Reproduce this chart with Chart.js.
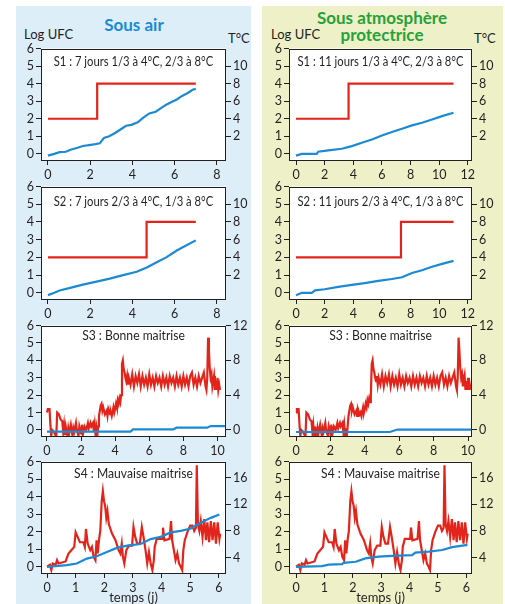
<!DOCTYPE html>
<html>
<head>
<meta charset="utf-8">
<script src="https://cdn.jsdelivr.net/npm/chart.js@4.4.0/dist/chart.umd.min.js"></script>
<style>
  body { margin: 0; width: 505px; height: 604px; position: relative; background: #fff; overflow: hidden;
         font-family: Lato, "Liberation Sans", sans-serif; color: #231f20; }
  .bg { position: absolute; top: 6px; height: 598px; }
  .txt { position: absolute; white-space: nowrap; font-size: 13px; line-height: 14px; }
  .title { position: absolute; font-weight: bold; font-size: 17px; line-height: 17px; text-align: center; }
  canvas { position: absolute; }
</style>
</head>
<body>
<div class="bg" style="left:16px;width:235px;background:#deeef9"></div>
<div class="bg" style="left:262px;width:241px;background:#eef0c8"></div>
<div class="title" style="left:34px;width:200px;top:16px;color:#1a8bd3">Sous air</div>
<div class="title" style="left:282px;width:200px;top:9px;color:#27a13a">Sous atmosphère<br>protectrice</div>
<div class="txt" style="left:24px;top:27px">Log UFC</div>
<div class="txt" style="left:228px;top:31px">T°C</div>
<div class="txt" style="left:271px;top:27px">Log UFC</div>
<div class="txt" style="left:474px;top:31px">T°C</div>

<script>
// Log UFC (blue) and temperature in °C (red), as [jours, valeur]
const s1AirLog = [[0,-0.1],[0.3,0.0],[0.55,0.1],[0.85,0.12],[1.1,0.25],[1.4,0.35],[1.65,0.45],[1.95,0.5],[2.25,0.55],[2.45,0.6],[2.65,0.9],[2.9,1.0],[3.2,1.2],[3.45,1.4],[3.7,1.6],[3.95,1.65],[4.25,1.8],[4.5,2.05],[4.8,2.3],[5.1,2.4],[5.35,2.6],[5.6,2.8],[5.85,2.95],[6.1,3.1],[6.35,3.3],[6.6,3.45],[6.85,3.65],[7.0,3.7]];
const s1AirTemp = [[0,4],[2.33,4],[2.33,8],[7,8]];
const s2AirLog = [[0,-0.13],[0.3,0.0],[0.55,0.13],[1.1,0.29],[1.65,0.46],[2.3,0.63],[2.93,0.8],[3.56,1.0],[4.2,1.19],[4.68,1.43],[5.15,1.72],[5.6,2.0],[6.1,2.39],[6.56,2.68],[7.0,2.96]];
const s2AirTemp = [[0,4],[4.67,4],[4.67,8],[7,8]];

const s1MapLog = [[0,-0.1],[0.4,0.0],[1.45,0.0],[1.55,0.12],[2.25,0.2],[3.2,0.29],[3.9,0.44],[4.6,0.63],[5.3,0.82],[6.0,1.05],[6.7,1.24],[7.4,1.43],[8.1,1.62],[8.8,1.77],[9.5,1.96],[10.2,2.15],[11.0,2.34]];
const s1MapTemp = [[0,4],[3.67,4],[3.67,8],[11,8]];
const s2MapLog = [[0,-0.14],[0.4,0.0],[1.1,0.0],[1.33,0.14],[2.0,0.2],[2.95,0.33],[3.9,0.45],[4.8,0.55],[5.75,0.67],[6.7,0.78],[7.4,0.88],[8.1,1.12],[8.8,1.27],[9.5,1.47],[10.2,1.63],[11.0,1.8]];
const s2MapTemp = [[0,4],[7.33,4],[7.33,8],[11,8]];

const s3AirLog = [[0,-0.1],[4.9,-0.1],[5.05,0.03],[7.4,0.03],[7.6,0.13],[9.4,0.13],[9.6,0.22],[10.45,0.22]];
const s3MapLog = [[0,-0.12],[5.45,-0.12],[5.9,0.02],[10.25,0.02]];
const s3Temp = [[0.0,2.0],[0.05,2.4],[0.15,2.4],[0.2,0.6],[0.25,-0.7],[0.3,0.0],[0.4,-0.2],[0.5,-0.6],[0.55,-0.6],[0.6,2.0],[0.7,1.8],[0.8,1.2],[0.9,1.0],[0.95,-0.2],[1.0,0.6],[1.05,-0.6],[1.1,0.4],[1.2,-0.7],[1.25,0.2],[1.3,-0.4],[1.4,0.6],[1.5,-0.7],[1.55,0.2],[1.6,-0.2],[1.7,0.8],[1.75,0.0],[1.85,-0.7],[1.9,0.4],[2.0,-0.4],[2.05,0.6],[2.1,-0.6],[2.2,0.4],[2.3,0.0],[2.4,0.8],[2.45,0.2],[2.55,0.8],[2.6,0.4],[2.7,0.8],[2.75,-0.2],[2.8,0.6],[2.85,-0.6],[2.9,0.2],[2.95,-0.7],[3.0,0.4],[3.05,1.6],[3.15,2.8],[3.2,3.0],[3.25,2.2],[3.3,2.6],[3.4,1.8],[3.5,2.2],[3.55,1.6],[3.6,2.4],[3.7,1.8],[3.75,2.0],[3.8,1.6],[3.9,2.6],[3.95,2.0],[4.0,2.4],[4.05,3.0],[4.1,2.6],[4.15,3.4],[4.2,3.0],[4.25,3.6],[4.3,3.2],[4.35,4.0],[4.4,7.6],[4.45,8.0],[4.5,7.0],[4.55,6.6],[4.6,6.0],[4.65,5.6],[4.7,6.2],[4.75,5.2],
  [4.8,6.0],[4.9,5.2],[5.0,6.4],[5.1,5.0],[5.2,6.2],[5.3,5.4],[5.4,6.4],[5.5,5.0],[5.6,6.2],[5.7,5.2],[5.8,6.0],[5.9,5.0],[6.0,6.4],[6.1,5.2],[6.2,6.0],[6.3,5.0],[6.4,6.2],[6.5,5.4],[6.6,6.0],[6.7,5.0],[6.8,6.2],[6.9,5.2],[7.0,6.0],[7.1,5.0],[7.2,6.2],[7.3,5.4],[7.4,6.0],[7.5,5.0],[7.6,6.2],[7.7,5.2],[7.8,6.0],[7.9,5.0],[8.0,6.2],[8.1,5.2],[8.2,6.0],[8.3,5.0],[8.4,6.2],[8.5,6.6],[8.6,5.2],[8.7,6.0],[8.8,5.0],[8.9,6.2],[9.0,5.4],[9.1,6.0],[9.2,6.6],[9.3,5.0],
  [9.35,4.6],[9.4,6.0],[9.45,10.6],[9.5,9.0],[9.55,7.0],[9.6,6.0],[9.65,6.4],[9.7,5.0],[9.8,6.2],[9.85,4.6],[9.9,5.6],[9.95,4.6],[10.0,6.0],[10.05,4.6],[10.1,5.2],[10.15,4.6]];

const s4AirLog = [[0,0.0],[0.69,0.1],[1.04,0.19],[1.39,0.47],[1.74,0.6],[2.09,0.84],[2.44,1.08],[2.8,1.21],[3.27,1.3],[3.62,1.58],[3.97,1.71],[4.32,1.96],[4.67,2.05],[5.02,2.18],[5.37,2.51],[5.72,2.79],[6.02,2.98]];
const s4MapLog = [[0,0.0],[0.91,0.04],[1.15,0.13],[1.62,0.15],[1.67,0.23],[2.1,0.29],[2.44,0.48],[2.91,0.58],[3.38,0.62],[4.09,0.67],[4.2,0.81],[4.68,0.87],[5.15,0.96],[5.5,1.12],[5.86,1.21],[6.04,1.25]];
const s4Temp = [[0.0,2.6],[0.1,2.9],[0.15,2.1],[0.2,3.1],[0.3,2.9],[0.35,3.6],[0.4,3.1],[0.65,3.4],[0.75,4.6],[0.85,5.1],[0.95,5.6],[1.0,7.8],[1.08,7.0],[1.15,6.3],[1.27,6.3],[1.32,5.6],[1.36,8.3],[1.42,6.1],[1.51,5.1],[1.57,5.6],[1.63,4.1],[1.69,3.6],[1.73,6.6],[1.77,4.6],[1.82,6.8],[1.86,8.0],[1.91,12.5],[1.95,14.0],[1.99,12.5],[2.03,11.8],[2.07,10.0],[2.11,11.0],[2.16,9.0],[2.27,7.6],[2.39,6.6],[2.5,5.1],[2.56,4.6],[2.61,6.1],[2.65,4.1],[2.7,3.1],[2.77,5.1],[2.86,5.8],[2.97,5.8],[3.02,8.6],[3.08,7.1],[3.15,6.1],[3.24,6.1],[3.31,8.6],[3.37,7.1],[3.44,5.1],[3.5,3.1],[3.56,4.8],[3.62,3.1],[3.68,2.1],[3.73,3.6],[3.76,5.6],[3.83,6.8],[4.02,6.8],[4.05,8.5],[4.1,6.6],[4.28,6.8],[4.33,9.5],[4.37,6.6],[4.43,5.1],[4.49,3.6],[4.55,4.6],[4.61,3.1],[4.67,2.6],[4.72,2.1],[4.76,5.1],[4.81,6.6],[4.9,7.8],[5.0,8.8],[5.08,8.8],[5.14,8.0],[5.2,8.5],[5.23,17.9],[5.27,9.0],[5.32,8.0],[5.37,9.5],[5.43,7.1],[5.49,9.8],[5.55,6.6],[5.6,9.3],[5.66,6.3],[5.72,9.5],[5.78,6.6],[5.84,9.3],[5.9,6.1],[5.96,9.3],[6.02,6.8],[6.05,7.6]];

const logTicks = [0, 1, 2, 3, 4, 5, 6];
const tTicksS12 = [2, 4, 6, 8, 10];
const tTicksS3 = [0, 4, 8, 12];
const tTicksS4 = [4, 8, 12, 16];
const xTicks7 = [0, 2, 4, 6, 8];
const xTicks11 = [0, 2, 4, 6, 8, 10, 12];
const xTicks10 = [0, 2, 4, 6, 8, 10];
const xTicks6 = [0, 1, 2, 3, 4, 5, 6];

const BLUE = '#1b8ad2';
const RED = '#e3241b';
const INK = '#231f20';
const FONT = 'Lato, "Liberation Sans", sans-serif';

const frame = {
  id: 'frame',
  beforeDraw(chart) {
    const a = chart.chartArea, c = chart.ctx;
    c.save();
    c.fillStyle = '#fff';
    c.fillRect(a.left, a.top, a.right - a.left, a.bottom - a.top);
    c.restore();
  },
  beforeDatasetsDraw(chart, args, opts) {
    const a = chart.chartArea, c = chart.ctx;
    c.save();
    c.fillStyle = INK;
    c.font = '12.5px ' + FONT;
    c.textAlign = 'center';
    c.textBaseline = 'middle';
    // the original face is narrower than Lato
    c.translate((a.left + a.right) / 2, a.top + opts.dy);
    c.scale(opts.sx, 1);
    c.fillText(opts.text, 0, 0);
    c.restore();
  },
  afterDraw(chart) {
    const a = chart.chartArea, c = chart.ctx;
    c.save();
    c.strokeStyle = INK;
    c.lineWidth = 1;
    c.strokeRect(Math.round(a.left) + 0.5, Math.round(a.top) + 0.5,
                 Math.round(a.right - a.left) - 1, Math.round(a.bottom - a.top) - 1);
    c.restore();
  }
};

function pts(arr) { return arr.map(p => ({ x: p[0], y: p[1] })); }

function axisStyle(ticks) {
  return {
    afterBuildTicks: ax => { ax.ticks = ticks.map(v => ({ value: v })); },
    grid: { display: true, drawOnChartArea: false, tickLength: 5, color: INK, lineWidth: 1 },
    border: { display: false },
    ticks: { color: INK, font: { family: FONT, size: 12.5 }, padding: 2, maxRotation: 0, autoSkip: false }
  };
}

function panel(p) {
  const l = p.left ? 41 : 289, r = p.left ? 226 : 472;
  const xH = p.xTitle ? 33 : 22;
  const cv = document.createElement('canvas');
  cv.width = (r - l) + 56;
  cv.height = (p.b - p.t) + 8 + xH;
  cv.style.left = (l - 28) + 'px';
  cv.style.top = (p.t - 8) + 'px';
  document.body.appendChild(cv);

  const x = Object.assign(axisStyle(p.xTicks), {
    type: 'linear', min: p.xMin, max: p.xMax,
    afterFit: s => { s.height = xH; },
    title: { display: !!p.xTitle, text: p.xTitle || '', color: INK, font: { family: FONT, size: 13 }, padding: 0 }
  });
  const y = Object.assign(axisStyle(logTicks), {
    position: 'left', min: -0.35, max: 6, afterFit: s => { s.width = 28; }
  });
  const y2 = Object.assign(axisStyle(p.tTicks), {
    position: 'right', min: p.tMin, max: p.tMax, afterFit: s => { s.width = 28; }
  });

  new Chart(cv, {
    type: 'line',
    data: {
      datasets: [
        { data: pts(p.blue), yAxisID: 'y', borderColor: BLUE, borderWidth: 2.2, pointRadius: 0, tension: 0 },
        { data: pts(p.red), yAxisID: 'y2', borderColor: RED, borderWidth: 2.2, pointRadius: 0, tension: 0 }
      ]
    },
    options: {
      responsive: false, animation: false, events: [],
      layout: { padding: { top: 8, left: 0, right: 0, bottom: 0 } },
      plugins: { legend: { display: false }, tooltip: { enabled: false },
                 frame: { text: p.label, dy: p.dy, sx: p.sx } },
      scales: { x: x, y: y, y2: y2 }
    },
    plugins: [frame]
  });
}

panel({ left: true, t: 47, b: 160, xMin: -0.33, xMax: 8.43, xTicks: xTicks7, tMin: -0.7, tMax: 12, tTicks: tTicksS12,
        blue: s1AirLog, red: s1AirTemp, label: 'S1 : 7 jours 1/3 à 4°C, 2/3 à 8°C', dy: 13, sx: 0.9 });
panel({ left: true, t: 185, b: 299, xMin: -0.33, xMax: 8.43, xTicks: xTicks7, tMin: -0.7, tMax: 12, tTicks: tTicksS12,
        blue: s2AirLog, red: s2AirTemp, label: 'S2 : 7 jours 2/3 à 4°C, 1/3 à 8°C', dy: 15, sx: 0.9 });
panel({ left: true, t: 324, b: 436, xMin: -0.35, xMax: 10.5, xTicks: xTicks10, tMin: -0.7, tMax: 12, tTicks: tTicksS3,
        blue: s3AirLog, red: s3Temp, label: 'S3 : Bonne maitrise', dy: 10, sx: 0.97 });
panel({ left: true, t: 460, b: 573, xMin: -0.21, xMax: 6.25, xTicks: xTicks6, tMin: 1.66, tMax: 18.48, tTicks: tTicksS4,
        blue: s4AirLog, red: s4Temp, label: 'S4 : Mauvaise maitrise', dy: 12, sx: 0.97, xTitle: 'temps (j)' });

panel({ left: false, t: 47, b: 160, xMin: -0.49, xMax: 12.29, xTicks: xTicks11, tMin: -0.7, tMax: 12, tTicks: tTicksS12,
        blue: s1MapLog, red: s1MapTemp, label: 'S1 : 11 jours 1/3 à 4°C, 2/3 à 8°C', dy: 13, sx: 0.9 });
panel({ left: false, t: 185, b: 299, xMin: -0.49, xMax: 12.29, xTicks: xTicks11, tMin: -0.7, tMax: 12, tTicks: tTicksS12,
        blue: s2MapLog, red: s2MapTemp, label: 'S2 : 11 jours 2/3 à 4°C, 1/3 à 8°C', dy: 15, sx: 0.9 });
panel({ left: false, t: 324, b: 436, xMin: -0.41, xMax: 10.23, xTicks: xTicks10, tMin: -0.7, tMax: 12, tTicks: tTicksS3,
        blue: s3MapLog, red: s3Temp, label: 'S3 : Bonne maitrise', dy: 10, sx: 0.97 });
panel({ left: false, t: 460, b: 573, xMin: -0.25, xMax: 6.2, xTicks: xTicks6, tMin: 1.66, tMax: 18.48, tTicks: tTicksS4,
        blue: s4MapLog, red: s4Temp, label: 'S4 : Mauvaise maitrise', dy: 12, sx: 0.97, xTitle: 'temps (j)' });
</script>
</body>
</html>
